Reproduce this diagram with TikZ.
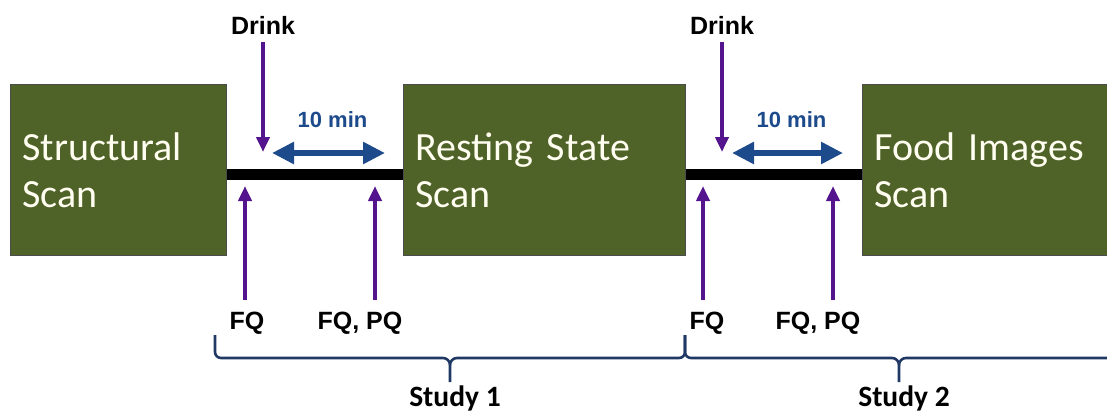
\documentclass[tikz,border=0pt]{standalone}
\usepackage{fontspec}
\setmainfont{Liberation Sans}
\newfontfamily\arialfont{Liberation Sans}
\newfontfamily\calfont{Carlito}
\usepackage{tikz}
\usetikzlibrary{arrows.meta}
\definecolor{scangreen}{RGB}{79,98,40}
\definecolor{cueviolet}{RGB}{84,20,142}
\definecolor{gapblue}{RGB}{28,74,138}
\definecolor{bracenavy}{RGB}{31,56,100}
\tikzstyle{scan} = [draw=black!70,line width=0.8pt,fill=scangreen,text=white!94!yellow,
    minimum height=171pt,inner sep=12pt,align=left,anchor=north west,
    font=\calfont\fontsize{40}{47}\selectfont]
\tikzstyle{cue} = [font=\arialfont\bfseries\fontsize{25}{28}\selectfont,inner sep=0pt]
\tikzstyle{link} = [draw,black,line width=11pt]
\tikzstyle{down arrow} = [draw,cueviolet,line width=4.5pt,-{Triangle[length=15pt,width=13pt]}]
\tikzstyle{gap arrow} = [draw,gapblue,line width=6pt,{Triangle[length=22pt,width=21pt]}-{Triangle[length=22pt,width=21pt]}]
\tikzstyle{study brace} = [draw,bracenavy,line width=2.6pt,line join=round]
\tikzstyle{study} = [font=\calfont\bfseries\fontsize{29.5}{31}\selectfont,inner sep=0pt]

\begin{document}
\begin{tikzpicture}[x=1pt,y=-1pt]
    \useasboundingbox (0,0) rectangle (1107,413);
    \clip (0,0) rectangle (1107,413);
    % the three scans
    \node[scan,minimum width=216pt,text width=192pt] (struct) at (10,84) {Structural\\Scan};
    \node[scan,minimum width=282pt,text width=258pt] (rest) at (403,84) {Resting State\\Scan};
    \node[scan,minimum width=282pt,text width=258pt] (food) at (862,84) {Food Images\\Scan};

    % time line between the scans
    \path[link] ([yshift=-5pt]struct.east) -- ([yshift=-5pt]rest.west);
    \path[link] ([yshift=-5pt]rest.east) -- ([yshift=-5pt]food.west);

    % drink, questionnaires and waiting time
    \foreach \x/\name in {263/drinkA, 722/drinkB} {
        \node[cue] (\name) at (\x,25) {Drink};
        \coordinate (\name end) at (\x,152);
        \path[down arrow] ([yshift=-8pt]\name.south) -- (\name end);
    }
    \foreach \a/\b/\name in {272/385/waitA, 732/843/waitB} {
        \coordinate (\name L) at (\a,153);
        \coordinate (\name R) at (\b,153);
        \node[cue,text=gapblue,font=\arialfont\bfseries\fontsize{22}{24}\selectfont] (\name) at ({(\a+\b)/2+4},120) {10 min};
        \path[gap arrow] (\name L) -- (\name R);
    }
    \foreach \x/\lx/\txt/\name in {245/247/FQ/fqA, 375/360/{FQ, PQ}/pqA, 703/707/FQ/fqB, 833/818/{FQ, PQ}/pqB} {
        \node[cue] (\name) at (\lx,323) {\txt};
        \coordinate (\name tip) at (\x,186);
        \coordinate (\name foot) at (\x,300);
        \path[down arrow] (\name foot) -- (\name tip);
    }

    % the two studies
    \foreach \a/\m/\b/\name/\txt in {215/450/685/study1/Study 1, 685/899/1113/study2/Study 2} {
        \coordinate (\name L) at (\a,335);
        \coordinate (\name R) at (\b,335);
        \coordinate (\name tip) at (\m,382);
        \path[study brace] (\name L) -- ++(0,17) to[out=-90,in=180] ++(6,6) -- (\m-7,358)
            to[out=0,in=90] (\m,365) -- (\name tip);
        \path[study brace] (\name R) -- ++(0,17) to[out=-90,in=0] ++(-6,6) -- (\m+7,358)
            to[out=180,in=90] (\m,365);
        \node[study] (\name) at (\m+5,398) {\txt};
    }
\end{tikzpicture}
\end{document}
